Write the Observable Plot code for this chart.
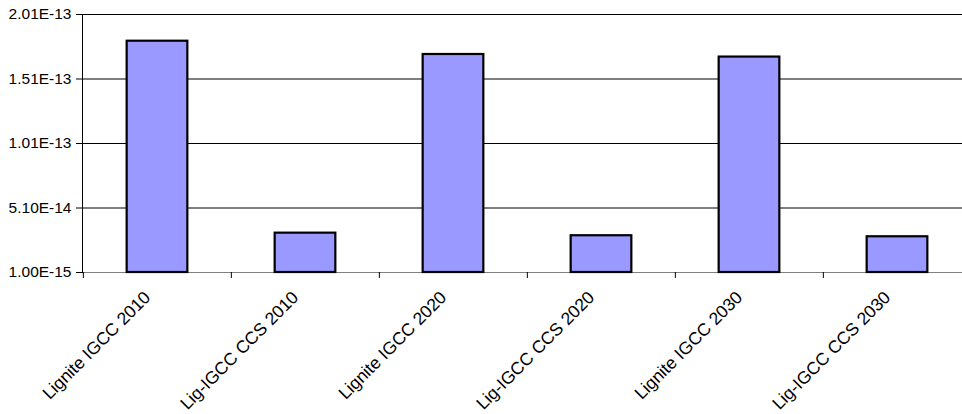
<!DOCTYPE html>
<html>
<head>
<meta charset="utf-8">
<script src="https://cdn.jsdelivr.net/npm/d3@7"></script>
<script src="https://cdn.jsdelivr.net/npm/@observablehq/plot@0.6"></script>
<style>
  html, body { margin: 0; padding: 0; background: #fff; overflow: hidden; }
  #chart svg { max-width: none !important; display: block; }
</style>
</head>
<body>
<div id="chart"></div>
<script>
// Emission values per plant configuration
const categories = [
  "Lignite IGCC 2010",
  "Lig-IGCC CCS 2010",
  "Lignite IGCC 2020",
  "Lig-IGCC CCS 2020",
  "Lignite IGCC 2030",
  "Lig-IGCC CCS 2030"
];
const values = [1.803e-13, 3.15e-14, 1.70e-13, 2.95e-14, 1.68e-13, 2.87e-14];
const yTickLabels = ["1.00E-15", "5.10E-14", "1.01E-13", "1.51E-13", "2.01E-13"];
const yTicks = yTickLabels.map(Number);

const rows = categories.map((c, i) => ({category: c, value: values[i]}));

const width = 972, height = 414;
const marginLeft = 82, marginRight = 0, marginTop = 14, marginBottom = 142;
const step = (width - marginLeft - marginRight) / categories.length;
const barWidth = 61;
const baseline = yTicks[0];

const chart = Plot.plot({
  width, height, marginLeft, marginRight, marginTop, marginBottom,
  style: {fontFamily: "'Liberation Sans', Arial, sans-serif", fontSize: "15.5px", color: "#000", background: "#fff", maxWidth: "none"},
  x: {type: "band", domain: categories, padding: 0, axis: null},
  y: {type: "linear", domain: [yTicks[0], yTicks[yTicks.length - 1]], axis: null},
  marks: [
    // horizontal gridlines
    Plot.ruleY(yTicks.slice(1), {stroke: "#000", strokeWidth: 1}),
    Plot.ruleY([baseline], {stroke: "#808080", strokeWidth: 1}),
    // value axis line and ticks
    Plot.frame({anchor: "left", stroke: "#000"}),
    Plot.axisY(yTicks, {
      label: null, tickSize: 6, tickPadding: 5, stroke: "#000",
      tickFormat: d => yTickLabels[yTicks.indexOf(d)]
    }),
    // category boundary ticks
    Plot.ruleX(categories, {x: d => d, y1: baseline, y2: baseline, dx: -step / 2, insetBottom: -6, stroke: "#000"}),
    // bars
    Plot.barY(rows, {
      x: "category", y1: baseline, y2: "value",
      fill: "#9999FF", stroke: "#000", strokeWidth: 2.2,
      insetLeft: (step - barWidth) / 2, insetRight: (step - barWidth) / 2
    }),
    // rotated category labels
    Plot.text(rows, {
      x: "category", y: baseline, text: "category",
      rotate: -45, textAnchor: "end", lineAnchor: "bottom",
      dx: -6, dy: 26, fontSize: 17.5, fill: "#000"
    })
  ]
});

chart.style.maxWidth = "none";
document.getElementById("chart").appendChild(chart);
</script>
</body>
</html>
